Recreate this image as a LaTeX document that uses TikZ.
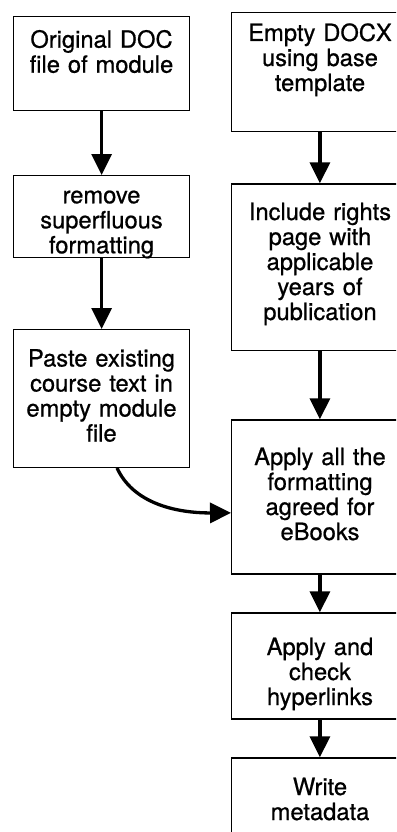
\documentclass[tikz,border=0pt]{standalone}
\usepackage{fontspec}
\setmainfont{TeX Gyre Heros}[FakeBold=0.7]
\usetikzlibrary{arrows.meta}
\tikzset{
  frame/.style={draw=black, fill=white, line width=1.2pt, rectangle, inner sep=0pt, anchor=north west},
  label/.style={anchor=base, text width=176pt, align=center, inner sep=0pt,
    font=\fontsize{23.7}{25}\selectfont},
  flow/.style={line width=3.3pt, -{Triangle[length=21pt,width=20pt]}}
}
\begin{document}
\begin{tikzpicture}[x=1pt,y=-1pt]
\useasboundingbox (0,0) rectangle (396,832);
\clip (0,0) rectangle (396,832);
% left column frames
\node[frame, minimum width=176pt, minimum height=94.3pt] (A) at (13,15.7) {};
\node[frame, minimum width=176pt, minimum height=81.7pt] (B) at (13,175) {};
\node[frame, minimum width=176pt, minimum height=137.7pt] (C) at (13,329) {};
% right column frames
\node[frame, minimum width=178pt, minimum height=118.7pt] (E) at (231,12.3) {};
\node[frame, minimum width=178pt, minimum height=166.7pt] (F) at (231,183.3) {};
\node[frame, minimum width=178pt, minimum height=154pt] (G) at (231,419.3) {};
\node[frame, minimum width=178pt, minimum height=106pt] (H) at (231,612.3) {};
\node[frame, minimum width=178pt, minimum height=100pt] (W) at (231,757.3) {};
% texts
\node[label] (At) at (101.5,47.7) {Original DOC\\file of module};
\node[label] (Bt) at (101.5,203.3) {remove\\superfluous\\formatting};
\node[label] (Ct) at (101.5,366.5) {Paste existing\\course text in\\empty module\\file};
\node[label] (Et) at (320,41) {Empty DOCX\\using base\\template};
\node[label] (Ft) at (320,220) {Include rights\\page with\\applicable\\years of\\publication};
\node[label] (Gt) at (320,465) {Apply all the\\formatting\\agreed for\\eBooks};
\node[label] (Ht) at (320,655) {Apply and\\check\\hyperlinks};
\node[label] (Wt) at (320,795) {Write\\metadata};
% connectors
\draw[flow] (A.south) -- (B.north);
\draw[flow] (B.south) -- (C.north);
\draw[flow] ([xshift=-0.7pt]E.south) -- ([xshift=-0.7pt]F.north);
\draw[flow] ([xshift=-0.7pt]F.south) -- ([xshift=-0.7pt]G.north);
\draw[flow] ([xshift=-0.7pt]G.south) -- ([xshift=-0.7pt]H.north);
\draw[flow] ([xshift=-0.7pt]H.south) -- ([xshift=-0.7pt]W.north);
\draw[flow] ([xshift=104pt]C.south west) .. controls (133,503) and (175,513) .. ([yshift=-16pt]G.west);
\end{tikzpicture}
\end{document}
